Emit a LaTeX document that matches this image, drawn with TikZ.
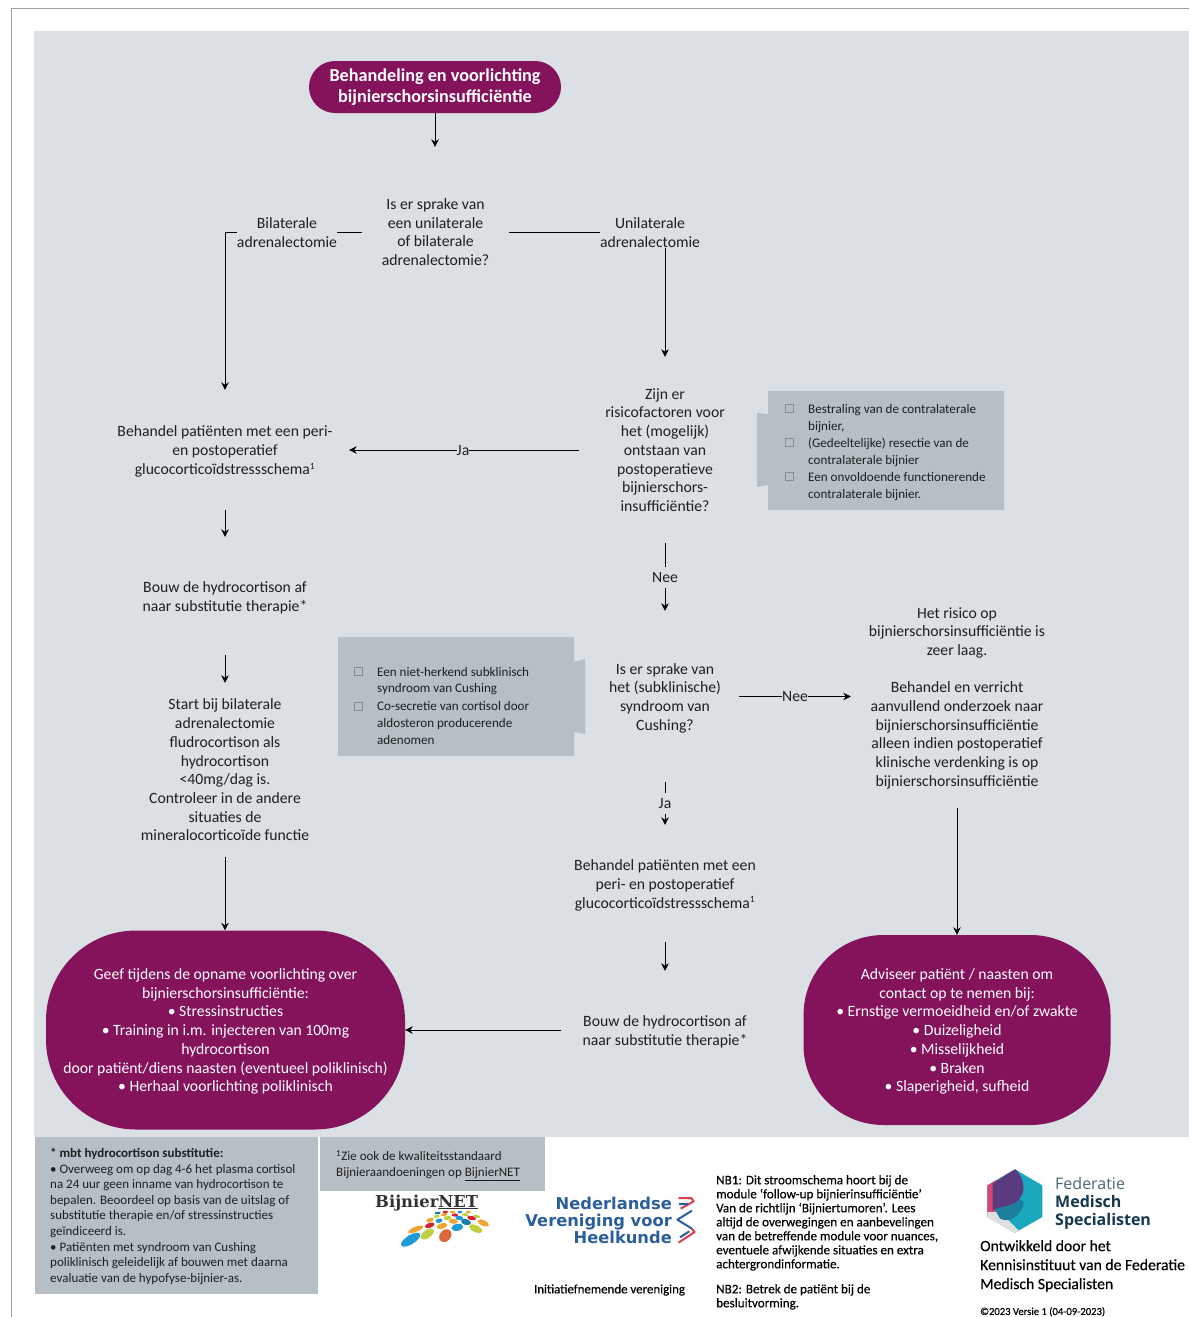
\documentclass[tikz,border=0pt]{standalone}
\usepackage{fontspec}
\setmainfont{Carlito}
\newfontfamily\semifont[FakeBold=0.35]{Carlito}
\newfontfamily\nvvhfont{DejaVu Sans}
\newfontfamily\bnfont{DejaVu Serif}
\newfontfamily\fmsfont{Open Sans}
\usetikzlibrary{arrows.meta}
\definecolor{bgc}{HTML}{DAE0E4}
\definecolor{boxc}{HTML}{B6BFC5}
\definecolor{plum}{HTML}{84135C}
\definecolor{txt}{HTML}{1F1F1F}
\definecolor{mblue}{HTML}{1E9AD6}
\definecolor{mlime}{HTML}{BFD13F}
\definecolor{mred}{HTML}{D5232F}
\definecolor{morange}{HTML}{F0A62E}
\definecolor{mrust}{HTML}{D9693A}
\definecolor{nvblue}{HTML}{2B5F9B}
\definecolor{nvred}{HTML}{E0404A}
\definecolor{fmteal}{HTML}{1BA7BE}
\definecolor{fmpink}{HTML}{D9466F}
\definecolor{fmdeep}{HTML}{1C7F9E}
\definecolor{fmpurple}{HTML}{5A3B7E}
\definecolor{fmnavy}{HTML}{14394F}
\definecolor{fmgrey}{HTML}{4A6A75}
\newcommand{\bodyfont}{\fontsize{15.7}{18.7}\selectfont}
\newcommand{\smallbox}{\fontsize{13.1}{16.6}\selectfont}
\newcommand{\notefont}{\fontsize{13}{15.6}\selectfont}
\newcommand{\supone}{\textsuperscript{\fontsize{9.5}{10}\selectfont 1}}
\newcommand{\ns}[1]{\rule{0pt}{#1pt}}
\newcommand{\mosaic}[6]{\fill[#6] (#1,#2) ellipse[x radius=#3pt,y radius=#4pt,rotate=#5];}
\tikzset{
  flow/.style={draw=none,inner sep=0pt,align=center,font=\bodyfont,text=txt},
  linklabel/.style={fill=bgc,inner xsep=0pt,inner ysep=1pt,align=center,font=\bodyfont,text=txt},
  plumbox/.style={fill=plum,text=white,inner sep=0pt,align=center,font=\bodyfont},
  link/.style={draw=black,line width=0.9pt},
  arrowlink/.style={link,-{Stealth[length=7.5pt,width=7.5pt]}},
  sidetext/.style={inner sep=0pt,anchor=west,align=left,font=\smallbox,text=txt},
  check/.style={draw=gray!90,fill=none,line width=0.5pt,minimum size=8pt,inner sep=0pt},
  plain/.style={inner sep=0pt,anchor=north west,align=left,text=black},
}
\begin{document}
\begin{tikzpicture}[x=1pt,y=-1pt]
\useasboundingbox (0,0) rectangle (1189,1317);
\fill[white] (0,0) rectangle (1189,1317);
\draw[gray!75,line width=1pt] (11,1317) -- (11,8.5) -- (1189,8.5);
\fill[bgc] (34,31) rectangle (1189,1137);

% side boxes
\fill[boxc] (768,391) -- (1004,391) -- (1004,510) -- (768,510) -- (768,485) -- (757,487) -- (757,413) -- (768,414) -- cycle;
\fill[boxc] (338,637) -- (574,637) -- (574,662) -- (585,659) -- (585,734) -- (574,732) -- (574,756) -- (338,756) -- cycle;
\node[check] (c1) at (789,408) {};
\node[check] (c2) at (789,442) {};
\node[check] (c3) at (789,476) {};
\node[sidetext] (s1) at (808,418.5) {Bestraling van de contralaterale\\bijnier,};
\node[sidetext] (s2) at (808,452.5) {(Gedeeltelijke) resectie van de\\contralaterale bijnier};
\node[sidetext] (s3) at (808,486.5) {Een onvoldoende functionerende\\contralaterale bijnier.};
\node[check] (c4) at (358,671) {};
\node[check] (c5) at (358,706) {};
\node[sidetext] (s4) at (377,681) {Een niet-herkend subklinisch\\syndroom van Cushing};
\node[sidetext] (s5) at (377,723) {Co-secretie van cortisol door\\aldosteron producerende\\adenomen};

% flow nodes
\node[plumbox,rounded corners=26pt,minimum width=252pt,minimum height=52pt,font=\fontsize{18.2}{21}\selectfont\bfseries] (start) at (435,87) {Behandeling en voorlichting\\bijnierschorsinsufficiëntie};
\node[flow,minimum width=147pt,minimum height=170pt] (q1) at (435.5,232) {Is er sprake van\\een unilaterale\\of bilaterale\\adrenalectomie?};
\node[flow,minimum width=172pt,minimum height=186pt] (q2) at (665,450) {Zijn er\\risicofactoren voor\\het (mogelijk)\\ontstaan van\\postoperatieve\\bijnierschors-\\insufficiëntie?};
\node[flow,minimum width=248pt,minimum height=120pt] (beh1) at (225,450) {\ns{14}Behandel patiënten met een peri-\\en postoperatief\\glucocorticoïdstressschema\supone};
\node[flow,minimum width=200pt,minimum height=118pt] (bouw1) at (225,596) {\ns{14.5}Bouw de hydrocortison af\\naar substitutie therapie*};
\node[flow,minimum width=200pt,minimum height=174pt] (start1) at (225,770) {Start bij bilaterale\\adrenalectomie\\fludrocortison als\\hydrocortison\\<40mg/dag is.\\Controleer in de andere\\situaties de\\mineralocorticoïde functie};
\node[flow,minimum width=148pt,minimum height=171pt] (q3) at (665,696.5) {\ns{14}Is er sprake van\\het (subklinische)\\syndroom van\\Cushing?};
\node[flow,minimum width=212pt,minimum height=223pt] (risk) at (957,696.5) {\ns{14}Het risico op\\bijnierschorsinsufficiëntie is\\zeer laag.\\[18.7pt]Behandel en verricht\\aanvullend onderzoek naar\\bijnierschorsinsufficiëntie\\alleen indien postoperatief\\klinische verdenking is op\\bijnierschorsinsufficiëntie};
\node[flow,minimum width=208pt,minimum height=117pt] (beh2) at (665,883.5) {\ns{14.5}Behandel patiënten met een\\peri- en postoperatief\\glucocorticoïdstressschema\supone};
\node[flow,minimum width=208pt,minimum height=118pt] (bouw2) at (665,1030) {\ns{14.5}Bouw de hydrocortison af\\naar substitutie therapie*};
\node[plumbox,rounded corners=90pt,minimum width=359pt,minimum height=199pt] (left) at (225.5,1030) {\ns{14}Geef tijdens de opname voorlichting over\\bijnierschorsinsufficiëntie:\\• Stressinstructies\\• Training in i.m. injecteren van 100mg\\hydrocortison\\door patiënt/diens naasten (eventueel poliklinisch)\\• Herhaal voorlichting poliklinisch};
\node[plumbox,rounded corners=80pt,minimum width=307pt,minimum height=190pt] (right) at (957,1030) {\ns{14}Adviseer patiënt / naasten om\\contact op te nemen bij:\\• Ernstige vermoeidheid en/of zwakte\\• Duizeligheid\\• Misselijkheid\\• Braken\\• Slaperigheid, sufheid};

% connectors
\coordinate (bendL) at (beh1.north |- q1.west);
\coordinate (bendR) at (q2.north |- q1.east);
\draw[arrowlink] (start) -- (q1.north -| start);
\draw[arrowlink] (q1.west) -- (bendL) -- (beh1.north);
\draw[arrowlink] (q1.east) -- (bendR) -- (q2.north);
\draw[arrowlink] (q2.west) -- (beh1.east);
\draw[arrowlink] (q2.south) -- (q3.north);
\draw[arrowlink] (q3.east) -- (risk.west);
\draw[arrowlink] (q3.south) -- (beh2.north);
\draw[arrowlink] (beh1.south) -- (bouw1.north);
\draw[arrowlink] (bouw1.south) -- (start1.north);
\draw[arrowlink] (start1.south) -- (left.north -| start1);
\draw[arrowlink] (risk.south) -- (right.north);
\draw[arrowlink] (beh2.south) -- (bouw2.north);
\draw[arrowlink] (bouw2.west) -- (left.east);
\node[linklabel] (lb) at (287,232.5) {Bilaterale\\adrenalectomie};
\node[linklabel] (lu) at (650,232.5) {Unilaterale\\adrenalectomie};
\node[linklabel] (lj1) at (463,450.5) {Ja};
\node[linklabel,inner ysep=5pt] (ln1) at (665,577.5) {Nee};
\node[linklabel] (ln2) at (795,696.5) {Nee};
\node[linklabel,inner ysep=5pt] (lj2) at (665,803.5) {Ja};

% footer boxes
\fill[boxc] (34.5,1137) rectangle (318,1294);
\fill[boxc] (320,1137) rectangle (545,1191);
\node[plain,font=\notefont,text=txt] (fa) at (50,1148) {\textbf{* mbt hydrocortison substitutie:}\\• Overweeg om op dag 4-6 het plasma cortisol\\na 24 uur geen inname van hydrocortison te\\bepalen. Beoordeel op basis van de uitslag of\\substitutie therapie en/of stressinstructies\\geïndiceerd is.\\• Patiënten met syndroom van Cushing\\poliklinisch geleidelijk af bouwen met daarna\\evaluatie van de hypofyse-bijnier-as.};
\node[plain,font=\notefont,text=txt] (fb) at (336,1150.5) {\textsuperscript{1}Zie ook de kwaliteitsstandaard\\Bijnieraandoeningen op \underline{BijnierNET}};

% BijnierNET logo
\node[inner sep=0pt,anchor=base west,font=\bnfont\bfseries\fontsize{16.4}{17}\selectfont,text=black!80] (bn) at (375,1207) {Bijnier\underline{NET}};
\begin{scope}[shift={(370,1188)},x=0.3333pt,y=-0.3333pt]
\mosaic{122}{155}{11}{4.5}{32}{mblue}
\mosaic{172}{138}{7.5}{4}{35}{mlime}
\mosaic{226}{143}{7}{5.5}{50}{mrust}
\mosaic{262}{118}{6}{3.5}{10}{mblue}
\mosaic{317}{122}{7}{3.5}{-25}{mlime}
\mosaic{137}{124}{8}{2.5}{22}{morange}
\mosaic{179}{112}{5}{2.5}{18}{mred}
\mosaic{216}{114}{5.5}{2.8}{15}{morange}
\mosaic{250}{100}{4.5}{2.5}{-5}{morange}
\mosaic{288}{102}{5}{3}{-15}{mblue!80!black}
\mosaic{340}{105}{6}{2.8}{-25}{morange}
\mosaic{180}{96}{4}{2}{20}{morange}
\mosaic{207}{98}{3.5}{2.2}{10}{mblue}
\mosaic{232}{90}{4}{2.2}{5}{mlime}
\mosaic{268}{90}{4}{2.2}{-5}{mblue}
\mosaic{305}{90}{4.5}{2.2}{-12}{mred}
\mosaic{200}{85}{3}{1.6}{10}{mlime}
\mosaic{222}{80}{3.2}{1.6}{5}{morange}
\mosaic{255}{81}{3.2}{1.6}{0}{mred}
\mosaic{286}{80}{3.2}{1.6}{-6}{mlime}
\mosaic{320}{85}{3.5}{1.6}{-12}{mlime}
\mosaic{203}{75}{3}{1.3}{5}{mblue!80!black}
\mosaic{226}{72}{2.6}{1.3}{0}{mred}
\mosaic{248}{72}{2.6}{1.3}{0}{morange}
\mosaic{270}{72}{2.6}{1.3}{0}{mblue}
\mosaic{295}{72}{2.6}{1.3}{-5}{morange}
\end{scope}

% NVvH logo
\node[inner sep=0pt,anchor=east,align=right,font=\nvvhfont\bfseries\fontsize{16.3}{16.6}\selectfont,text=nvblue] (nv) at (672,1220.5) {Nederlandse\\Vereniging voor\\Heelkunde};
\begin{scope}[shift={(520,1188)},x=0.3333pt,y=-0.3333pt,line width=2pt]
\draw[nvred,line join=round] (476,30) -- (514,30) -- (521,40) -- (482,62);
\draw[nvblue] (476,47) -- (504,47);
\draw[nvblue,line join=round] (516,68) -- (472,95) -- (516,122);
\draw[nvred,line join=round] (476,164) -- (524,132) -- (515,122);
\draw[nvblue] (480,148) -- (508,130);
\end{scope}
\node[inner sep=0pt,font=\fontsize{12.9}{14}\selectfont\semifont,text=black] (ini) at (609.5,1290) {Initiatiefnemende vereniging};

% NB
\node[plain,font=\fontsize{13.1}{14}\selectfont\semifont] (nb1) at (716,1175) {NB1: Dit stroomschema hoort bij de\\module ‘follow-up bijnierinsufficiëntie’\\Van de richtlijn ‘Bijniertumoren’. Lees\\altijd de overwegingen en aanbevelingen\\van de betreffende module voor nuances,\\eventuele afwijkende situaties en extra\\achtergrondinformatie.};
\node[plain,font=\fontsize{13.1}{14}\selectfont\semifont] (nb2) at (716,1284) {NB2: Betrek de patiënt bij de\\besluitvorming.};

% Federatie logo
\begin{scope}[shift={(980,1162)},x=0.3333pt,y=-0.3333pt]
\begin{scope}
\clip (105,22) -- (187,70) -- (187,165) -- (105,212) -- (22,165) -- (22,70) -- cycle;
\fill[fmteal] (0,0) rectangle (200,220);
\fill[fmpink] (0,50) rectangle (50,160);
\fill[black!12] (22,150) -- (60,150) -- (130,220) -- (0,220) -- cycle;
\fill[fmdeep] (38,130) .. controls (70,105) and (110,100) .. (132,120) .. controls (125,160) and (90,185) .. (60,170) -- cycle;
\fill[fmpurple] (105,20) .. controls (135,50) and (145,100) .. (100,125) .. controls (85,132) and (55,135) .. (38,145) -- (38,65) -- cycle;
\end{scope}
\end{scope}
\node[plain,font=\fmsfont\fontsize{16}{18}\selectfont,text=fmgrey] (fms1) at (1055,1177.5) {Federatie};
\node[plain,font=\fmsfont\bfseries\fontsize{16}{18}\selectfont,text=fmnavy] (fms2) at (1055,1195.5) {Medisch\\Specialisten};
\node[plain,font=\fontsize{15.7}{19}\selectfont\semifont] (ont) at (980,1240) {Ontwikkeld door het\\Kennisinstituut van de Federatie\\Medisch Specialisten};
\node[plain,font=\fontsize{10.6}{11}\selectfont\semifont] (ver) at (980,1307) {©2023 Versie 1 (04-09-2023)};
\end{tikzpicture}
\end{document}
